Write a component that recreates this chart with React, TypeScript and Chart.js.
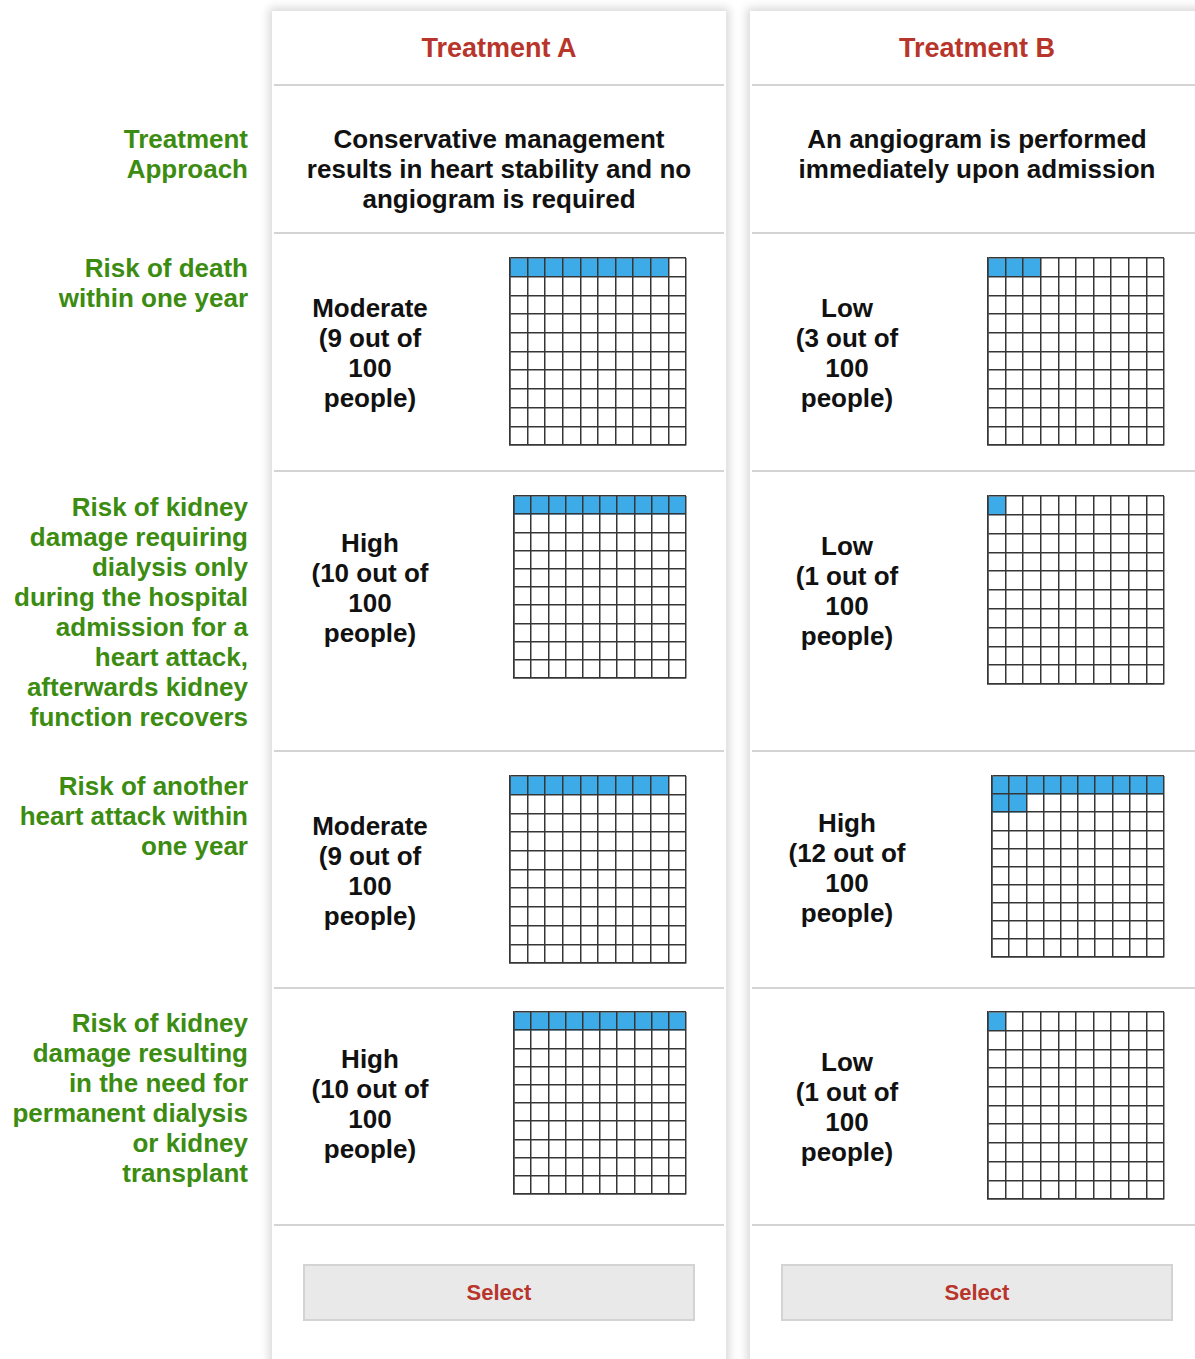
import React, { useEffect, useRef } from "react";
import { Chart, registerables } from "chart.js";

Chart.register(...registerables);

// ---------- data ----------
const treatments = ["Treatment A", "Treatment B"];
const approachA = ["Conservative management", "results in heart stability and no", "angiogram is required"];
const approachB = ["An angiogram is performed", "immediately upon admission"];
const approachLabel = ["Treatment", "Approach"];
const riskLabels = [
  ["Risk of death", "within one year"],
  ["Risk of kidney", "damage requiring", "dialysis only", "during the hospital", "admission for a", "heart attack,", "afterwards kidney", "function recovers"],
  ["Risk of another", "heart attack within", "one year"],
  ["Risk of kidney", "damage resulting", "in the need for", "permanent dialysis", "or kidney", "transplant"],
];
const levelsA = ["Moderate", "High", "Moderate", "High"];
const countsA = [9, 10, 9, 10];
const levelsB = ["Low", "Low", "High", "Low"];
const countsB = [3, 1, 12, 1];
const gridColumns = ["1", "2", "3", "4", "5", "6", "7", "8", "9", "10"];
const gridRowCount = 10;
const populationSize = 100;
const buttonLabel = "Select";

// ---------- layout / style ----------
const FONT = '"Liberation Sans", Arial, Helvetica, sans-serif';
const RED = "#b8352b";
const GREEN = "#3c8c12";
const BLUE = "#3dabe7";
const GRID_LINE = "#363636";
const SEP = "#d4d4d4";

const cardA = { left: 272, width: 454, center: 499, textCenter: 370 };
const cardB = { left: 750, width: 470, center: 977, textCenter: 847 };
const separatorsY = [84, 232, 470, 750, 987, 1224];
const leftLabelTops = [253, 492, 771, 1008];
const gridBoxesA = [
  { left: 510, top: 258, width: 176, height: 187 },
  { left: 514, top: 496, width: 172, height: 182 },
  { left: 510, top: 776, width: 176, height: 187 },
  { left: 514, top: 1012, width: 172, height: 182 },
];
const gridBoxesB = [
  { left: 988, top: 258, width: 176, height: 187 },
  { left: 988, top: 496, width: 176, height: 188 },
  { left: 992, top: 776, width: 172, height: 181 },
  { left: 988, top: 1012, width: 176, height: 187 },
];

function IconGrid({ count, box }: { count: number; box: { left: number; top: number; width: number; height: number } }) {
  const ref = useRef<HTMLCanvasElement | null>(null);
  useEffect(() => {
    if (!ref.current) return;
    const cols = gridColumns.length;
    const rows = Math.ceil(count / cols);
    const datasets = [];
    for (let r = 0; r < rows; r++) {
      datasets.push({
        label: "row " + (r + 1),
        data: gridColumns.map((_, c) => (r * cols + c < count ? [r, r + 1] : null)),
        backgroundColor: BLUE,
        borderWidth: 0,
        categoryPercentage: 1,
        barPercentage: 1,
        grouped: false,
      });
    }
    const chart = new Chart(ref.current, {
      type: "bar",
      data: { labels: gridColumns, datasets: datasets as any },
      options: {
        animation: false,
        responsive: false,
        events: [],
        layout: { padding: 2 },
        plugins: { legend: { display: false }, tooltip: { enabled: false } },
        scales: {
          x: {
            type: "category",
            offset: true,
            grid: { offset: true, color: GRID_LINE, lineWidth: 1.5, drawTicks: false, z: 1 },
            border: { display: true, color: GRID_LINE, width: 1.5, z: 1 },
            ticks: { display: false },
          },
          y: {
            type: "linear",
            min: 0,
            max: gridRowCount,
            reverse: true,
            grid: { color: GRID_LINE, lineWidth: 1.5, drawTicks: false, z: 1 },
            border: { display: true, color: GRID_LINE, width: 1.5, z: 1 },
            ticks: { display: false, stepSize: 1 },
          },
        },
      },
    });
    return () => chart.destroy();
  }, [count]);
  return (
    <canvas
      ref={ref}
      width={box.width + 4}
      height={box.height + 4}
      style={{ position: "absolute", left: box.left - 2, top: box.top - 2, width: box.width + 4, height: box.height + 4 }}
    />
  );
}

function Lines({ lines, style }: { lines: string[]; style: React.CSSProperties }) {
  return (
    <div style={{ position: "absolute", fontFamily: FONT, fontWeight: 700, fontSize: 26, lineHeight: "30px", whiteSpace: "nowrap", ...style }}>
      {lines.map((l, i) => (
        <div key={i}>{l}</div>
      ))}
    </div>
  );
}

function Card({ card, title, approach, levels, counts, boxes }: any) {
  const sepLeft = card.left + 2;
  const sepWidth = card.width - 4;
  return (
    <>
      <div
        style={{
          position: "absolute",
          left: card.left,
          top: 11,
          width: card.width,
          height: 1400,
          background: "#fff",
          boxShadow: "0 0 9px 3px rgba(0,0,0,0.16)",
        }}
      />
      {separatorsY.map((y, i) => (
        <div key={i} style={{ position: "absolute", left: sepLeft, top: y, width: sepWidth, height: 2, background: SEP }} />
      ))}
      <div
        style={{
          position: "absolute",
          left: card.center - 200,
          width: 400,
          top: 31,
          textAlign: "center",
          fontFamily: FONT,
          fontWeight: 700,
          fontSize: 27,
          lineHeight: "34px",
          color: RED,
        }}
      >
        {title}
      </div>
      <Lines lines={approach} style={{ left: card.center - 230, width: 460, top: 124, textAlign: "center", color: "#111" }} />
      {levels.map((lv: string, i: number) => {
        const b = boxes[i];
        const mid = b.top + b.height / 2;
        return (
          <React.Fragment key={i}>
            <Lines
              lines={[lv, `(${counts[i]} out of`, String(populationSize), "people)"]}
              style={{ left: card.textCenter - 120, width: 240, top: mid - 59, textAlign: "center", color: "#111" }}
            />
            <IconGrid count={counts[i]} box={b} />
          </React.Fragment>
        );
      })}
      <div
        style={{
          position: "absolute",
          left: card.left + 31,
          top: 1264,
          width: 392 - 4,
          height: 57 - 4,
          background: "#e9e9e9",
          border: "2px solid #d3d3d3",
          display: "flex",
          alignItems: "center",
          justifyContent: "center",
          fontFamily: FONT,
          fontWeight: 700,
          fontSize: 22,
          color: RED,
        }}
      >
        {buttonLabel}
      </div>
    </>
  );
}

export default function App() {
  return (
    <div style={{ position: "absolute", left: 0, top: 0, width: 1195, height: 1359, overflow: "hidden", background: "#fff" }}>
      <Lines lines={approachLabel} style={{ left: 0, width: 248, top: 124, textAlign: "right", color: GREEN }} />
      {riskLabels.map((lines, i) => (
        <Lines key={i} lines={lines} style={{ left: 0, width: 248, top: leftLabelTops[i], textAlign: "right", color: GREEN }} />
      ))}
      <Card card={cardA} title={treatments[0]} approach={approachA} levels={levelsA} counts={countsA} boxes={gridBoxesA} />
      <Card card={cardB} title={treatments[1]} approach={approachB} levels={levelsB} counts={countsB} boxes={gridBoxesB} />
    </div>
  );
}
